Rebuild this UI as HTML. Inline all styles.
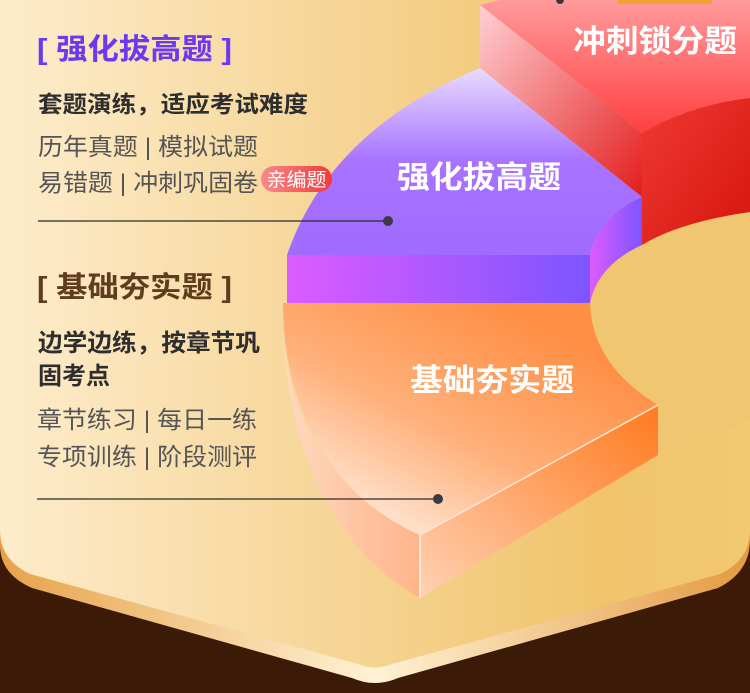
<!DOCTYPE html>
<html><head><meta charset="utf-8"><style>
html,body{margin:0;padding:0;width:750px;height:693px;overflow:hidden;background:#3b1a07}
svg{display:block}
text{font-family:"Liberation Sans","Noto Sans CJK SC",sans-serif}
</style></head><body>
<svg width="750" height="693" viewBox="0 0 750 693" xmlns="http://www.w3.org/2000/svg">
<defs>
<linearGradient id="bg" x1="0" y1="0" x2="1" y2="0">
<stop offset="0" stop-color="#fdeccb"/><stop offset="0.45" stop-color="#f6d596"/><stop offset="0.8" stop-color="#f1c46c"/><stop offset="1" stop-color="#f2c870"/></linearGradient>
<linearGradient id="rim" x1="0" y1="0" x2="1" y2="0">
<stop offset="0" stop-color="#e7a24a"/><stop offset="0.5" stop-color="#fff2d4"/><stop offset="1" stop-color="#e49a42"/></linearGradient>
<linearGradient id="orTop" x1="0.2" y1="0.9" x2="0.8" y2="0.2">
<stop offset="0" stop-color="#ffe4d2"/><stop offset="0.45" stop-color="#ffb07a"/><stop offset="1" stop-color="#ff8f45"/></linearGradient>
<linearGradient id="orFront" x1="0" y1="1" x2="1" y2="0">
<stop offset="0" stop-color="#ffd1b3"/><stop offset="1" stop-color="#ff7a1f"/></linearGradient>
<linearGradient id="orSide" x1="0" y1="0" x2="1" y2="0">
<stop offset="0" stop-color="#ffd9c0"/><stop offset="1" stop-color="#ffb48a"/></linearGradient>
<linearGradient id="puTop" x1="0" y1="0" x2="0" y2="1">
<stop offset="0" stop-color="#e9dcff"/><stop offset="0.5" stop-color="#a873ff"/><stop offset="1" stop-color="#a06bff"/></linearGradient>
<linearGradient id="puFront" x1="0" y1="0" x2="1" y2="0">
<stop offset="0" stop-color="#dc5cff"/><stop offset="1" stop-color="#7d55ff"/></linearGradient>
<linearGradient id="rdTop" x1="0" y1="0" x2="0" y2="1">
<stop offset="0" stop-color="#ff9a9c"/><stop offset="1" stop-color="#ff4040"/></linearGradient>
<linearGradient id="rdLeft" x1="0" y1="0" x2="1" y2="1">
<stop offset="0" stop-color="#ffd0d4"/><stop offset="1" stop-color="#e41d1d"/></linearGradient>
<linearGradient id="rdRight" x1="0" y1="0" x2="1" y2="1">
<stop offset="0" stop-color="#ef3a33"/><stop offset="1" stop-color="#d5140f"/></linearGradient>
<linearGradient id="badge" x1="0" y1="0" x2="1" y2="0">
<stop offset="0" stop-color="#f98a8a"/><stop offset="1" stop-color="#f23a3a"/></linearGradient>
</defs>
<path d="M0 0H750V540Q750 572 718 588L398 678Q375 688 352 678L32 588Q0 574 0 545Z" fill="url(#rim)"/>
<path d="M0 0H750V530Q750 560 720 574L392 664Q375 671 358 664L30 574Q0 560 0 530Z" fill="url(#bg)"/>
<!-- red block -->
<path d="M480 5L500 0H750V100Q690 110 642 133Z" fill="url(#rdTop)"/>
<path d="M480 5L642 133V197L480 68Z" fill="url(#rdLeft)"/>
<path d="M642 133Q690 105 750 98V215Q690 225 642 245Z" fill="url(#rdRight)"/>
<rect x="617" y="0" width="95" height="4" rx="2" fill="#f6a030"/>
<circle cx="560" cy="0" r="4" fill="#3a3a3a"/>
<!-- gold circle -->
<path d="M750 212Q680 222 642 245Q595 270 590 315Q595 365 658 405L658 455L750 420Z" fill="#f1c672"/>
<!-- purple block -->
<path d="M287 255Q330 130 480 68L642 197Q600 215 590 255Z" fill="url(#puTop)"/>
<rect x="287" y="255" width="303" height="48" fill="url(#puFront)"/>
<path d="M590 255Q600 215 642 197V245Q598 265 590 303Z" fill="url(#puFront)"/>
<!-- orange block -->
<path d="M283 320C285 470 350 560 420 598V535C340 500 283 420 283 320Z" fill="url(#orSide)"/>
<path d="M283 303H590Q592 365 658 405L420 535C340 500 283 420 283 303Z" fill="url(#orTop)"/>
<path d="M420 535L658 405V455L420 598Z" fill="url(#orFront)"/>
<path d="M420 535L658 405" stroke="#ffe7d6" stroke-width="1.5"/>
<path d="M420 535V598" stroke="#fff3ea" stroke-width="1.5"/>
<!-- block labels -->
<text x="573" y="52" font-size="31" font-weight="bold" fill="#fff" textLength="164" lengthAdjust="spacingAndGlyphs">冲刺锁分题</text>
<text x="397" y="188" font-size="31" font-weight="bold" fill="#fff" textLength="164" lengthAdjust="spacingAndGlyphs">强化拔高题</text>
<text x="410" y="391" font-size="31" font-weight="bold" fill="#fff" textLength="164" lengthAdjust="spacingAndGlyphs">基础夯实题</text>
<!-- left panel top -->
<text x="37" y="59" font-size="29" font-weight="bold" fill="#6c38f0" textLength="195" lengthAdjust="spacingAndGlyphs">[ 强化拔高题 ]</text>
<text x="38" y="112" font-size="23" font-weight="bold" fill="#2e2e2e" textLength="270" lengthAdjust="spacingAndGlyphs">套题演练，适应考试难度</text>
<text x="38" y="155" font-size="24" fill="#555" textLength="220" lengthAdjust="spacingAndGlyphs">历年真题 | 模拟试题</text>
<text x="38" y="191" font-size="24" fill="#555" textLength="220" lengthAdjust="spacingAndGlyphs">易错题 | 冲刺巩固卷</text>
<rect x="261" y="166" width="71" height="26" rx="13" fill="url(#badge)"/>
<text x="296.5" y="186" font-size="19" fill="#fff" text-anchor="middle" textLength="60" lengthAdjust="spacingAndGlyphs">亲编题</text>
<line x1="38" y1="221" x2="388" y2="221" stroke="#2a2a2a" stroke-width="1.2"/>
<circle cx="388" cy="221" r="5" fill="#3a3a44"/>
<!-- left panel bottom -->
<text x="37" y="297" font-size="29" font-weight="bold" fill="#5e3d1f" textLength="195" lengthAdjust="spacingAndGlyphs">[ 基础夯实题 ]</text>
<text x="38" y="351" font-size="24" font-weight="bold" fill="#2e2e2e" textLength="222" lengthAdjust="spacingAndGlyphs">边学边练，按章节巩</text>
<text x="38" y="384" font-size="24" font-weight="bold" fill="#2e2e2e" textLength="72" lengthAdjust="spacingAndGlyphs">固考点</text>
<text x="37" y="428" font-size="24" fill="#555" textLength="220" lengthAdjust="spacingAndGlyphs">章节练习 | 每日一练</text>
<text x="37" y="465" font-size="24" fill="#555" textLength="220" lengthAdjust="spacingAndGlyphs">专项训练 | 阶段测评</text>
<line x1="37" y1="499" x2="438" y2="499" stroke="#2a2a2a" stroke-width="1.2"/>
<circle cx="438" cy="499" r="5" fill="#3a3a44"/>
</svg>
</body></html>
